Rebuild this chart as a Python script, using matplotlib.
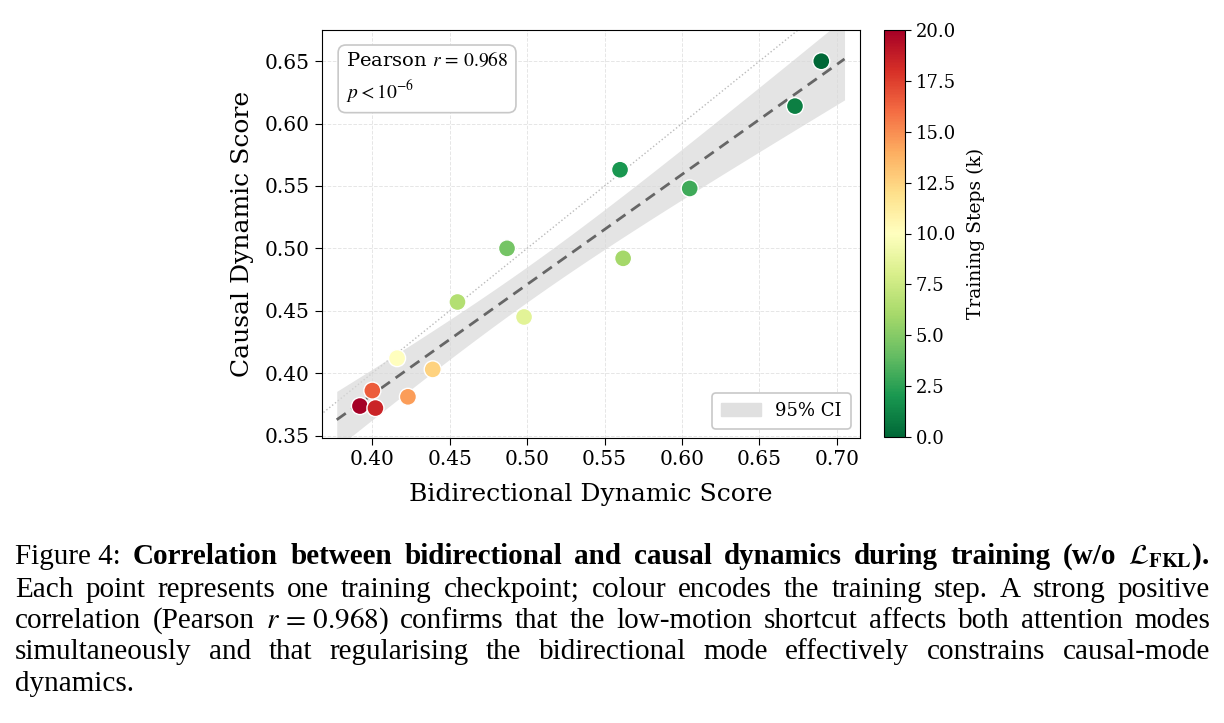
import numpy as np
import matplotlib
matplotlib.use("Agg")
import matplotlib.pyplot as plt
from matplotlib.patches import Patch

plt.rcParams["font.family"] = "DejaVu Serif"
plt.rcParams["mathtext.fontset"] = "stix"

# checkpoints: bidirectional score, causal score, training step (k)
bidir = [0.690, 0.673, 0.605, 0.560, 0.487, 0.562, 0.455, 0.498, 0.416, 0.439, 0.400, 0.423, 0.392, 0.402]
causal = [0.650, 0.614, 0.548, 0.563, 0.500, 0.492, 0.457, 0.445, 0.412, 0.403, 0.386, 0.381, 0.3736, 0.372]
steps = [0, 1, 3, 2, 4.5, 6, 6.5, 8.5, 10, 12.5, 16.5, 14.5, 20, 18.5]
xticks = [0.40, 0.45, 0.50, 0.55, 0.60, 0.65, 0.70]
yticks = [0.35, 0.40, 0.45, 0.50, 0.55, 0.60, 0.65]
cbar_ticks = [0.0, 2.5, 5.0, 7.5, 10.0, 12.5, 15.0, 17.5, 20.0]

caption = [
    [("Figure 4:", "normal"), ("Correlation", "bold"), ("between", "bold"), ("bidirectional", "bold"),
     ("and", "bold"), ("causal", "bold"), ("dynamics", "bold"), ("during", "bold"), ("training", "bold"),
     ("(w/o", "bold"), (r"$\mathcal{L}_{\mathbf{FKL}}$).", "bold")],
    "Each point represents one training checkpoint; colour encodes the training step. A strong positive",
    r"correlation (Pearson $r\,=\,0.968$) confirms that the low-motion shortcut affects both attention modes",
    "simultaneously and that regularising the bidirectional mode effectively constrains causal-mode",
    "dynamics.",
]

W, H = 1224, 723
fig = plt.figure(figsize=(W / 100, H / 100), dpi=100)
ax = fig.add_axes([321.7 / W, 1 - 438 / H, (860 - 321.7) / W, (438 - 30) / H])
cax = fig.add_axes([884 / W, 1 - 437 / H, 21 / W, (437 - 30) / H])

x = np.array(bidir); y = np.array(causal)
n = len(x)
slope, icpt = np.polyfit(x, y, 1)
xs = np.linspace(x.min() - 0.015, x.max() + 0.015, 200)
ys = slope * xs + icpt
resid = y - (slope * x + icpt)
s = np.sqrt(np.sum(resid ** 2) / (n - 2))
se = s * np.sqrt(1 / n + (xs - x.mean()) ** 2 / np.sum((x - x.mean()) ** 2))
tval = 2.179  # t(0.975, df=12)

ax.plot([0.3, 0.8], [0.3, 0.8], ls=":", color="#bbbbbb", lw=1, zorder=1)
ax.fill_between(xs, ys - tval * se, ys + tval * se, color="#d9d9d9", alpha=0.7, lw=0, zorder=1)
ax.plot(xs, ys, ls="--", color="#666666", lw=2, dashes=(4, 2.5), zorder=2)
sc = ax.scatter(x, y, c=steps, cmap="RdYlGn_r", vmin=0, vmax=20, s=150,
                edgecolors="white", linewidths=1, zorder=3)

ax.set_xlim(0.3673, 0.715)
ax.set_ylim(0.348, 0.675)
ax.set_xticks(xticks); ax.set_yticks(yticks)
ax.set_xticklabels([f"{v:.2f}" for v in xticks]); ax.set_yticklabels([f"{v:.2f}" for v in yticks])
ax.tick_params(labelsize=14.5, length=5)
ax.grid(True, ls="--", color="#e6e6e6", lw=0.7)
ax.set_axisbelow(True)
ax.set_xlabel("Bidirectional Dynamic Score", fontsize=18, labelpad=10)
ax.set_ylabel("Causal Dynamic Score", fontsize=18, labelpad=8)

ax.text(0.045, 0.95, "Pearson $r\\,{=}\\,0.968$\n$p<10^{-6}$",
        transform=ax.transAxes, fontsize=14, va="top", ha="left", linespacing=1.4,
        bbox=dict(boxstyle="round,pad=0.4", fc="white", ec="#c8c8c8", lw=1.2))
leg = ax.legend(handles=[Patch(color="#e0e0e0", label="95% CI")], loc="lower right",
                fontsize=13, framealpha=1, handlelength=2.2, borderpad=0.5)
leg.get_frame().set_edgecolor("#c8c8c8"); leg.get_frame().set_linewidth(1.2)

cb = fig.colorbar(sc, cax=cax, ticks=cbar_ticks)
cb.ax.set_yticklabels([f"{v:.1f}" for v in cbar_ticks])
cb.ax.tick_params(labelsize=13, length=4)
cb.set_label("Training Steps (k)", fontsize=13.5, labelpad=8)

# caption, justified between x0 and x1 (pixels)
renderer = fig.canvas.get_renderer()
x0, x1 = 15, 1210
base = [557, 590, 621, 652, 684]
for i, line in enumerate(caption):
    toks = line if isinstance(line, list) else [(w, "normal") for w in line.split(" ")]
    objs = [fig.text(0, 1 - base[i] / H, t, fontsize=21, fontfamily="Liberation Serif",
                     fontweight=wt, va="center", ha="left") for t, wt in toks]
    widths = [o.get_window_extent(renderer).width for o in objs]
    last = i == len(caption) - 1
    gap = 5.5 if last else (x1 - x0 - sum(widths)) / (len(objs) - 1)
    pos = x0
    for o, w in zip(objs, widths):
        o.set_x(pos / W)
        pos += w + gap

fig.savefig("out.png", dpi=100)
